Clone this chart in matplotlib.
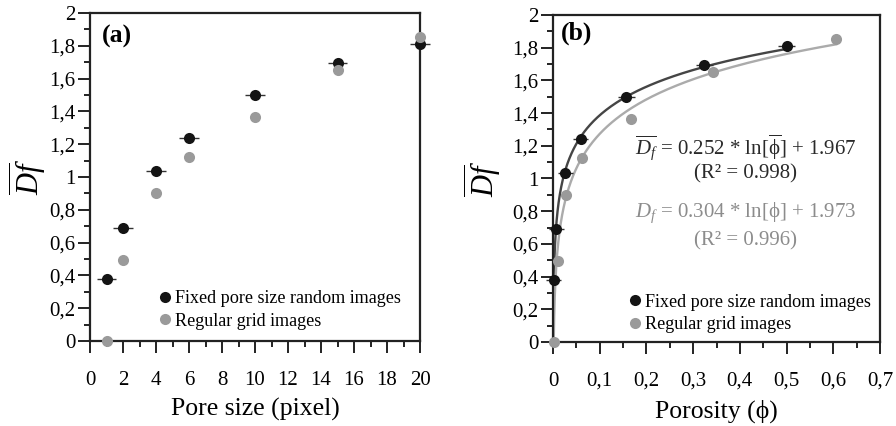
import numpy as np
import matplotlib
matplotlib.use("Agg")
import matplotlib.pyplot as plt
from matplotlib.ticker import MultipleLocator, FuncFormatter

plt.rcParams['font.family'] = ['Liberation Serif', 'DejaVu Serif']
plt.rcParams['mathtext.fontset'] = 'custom'
plt.rcParams['mathtext.rm'] = 'Liberation Serif'
plt.rcParams['mathtext.it'] = 'Liberation Serif:italic'
plt.rcParams['mathtext.bf'] = 'Liberation Serif:bold'

# Pore size series (panel a)
pore_size = [1, 2, 4, 6, 10, 15, 20]
df_random = [0.38, 0.69, 1.035, 1.24, 1.50, 1.695, 1.81]
df_grid = [0.0, 0.495, 0.90, 1.125, 1.365, 1.65, 1.855]
pore_err = [0.6, 0.6, 0.6, 0.6, 0.6, 0.6, 0.6]

# Porosity series (panel b)
phi_random = [0.002, 0.007, 0.026, 0.059, 0.157, 0.324, 0.500]
phi_grid = [0.002, 0.011, 0.028, 0.062, 0.167, 0.342, 0.606]
phi_err = [0.016, 0.016, 0.016, 0.016, 0.018, 0.018, 0.018]

# Logarithmic fits  Df = a * ln(phi) + b
fit_random = (0.252, 1.967)
fit_grid = (0.304, 1.973)

BLACK = '#141414'
GREY = '#9a9a9a'
CURVE_DARK = '#454545'
CURVE_LIGHT = '#ababab'

TICK_FS = 15
LABEL_FS = 18.5


def comma(v, pos):
    s = ('%g' % round(v, 3))
    return s.replace('.', ',')


def style_axis(ax, xmajor, xminor, ylabelpad):
    ax.set_ylim(0, 2)
    ax.yaxis.set_major_locator(MultipleLocator(0.2))
    ax.yaxis.set_minor_locator(MultipleLocator(0.1))
    ax.xaxis.set_major_locator(MultipleLocator(xmajor))
    ax.xaxis.set_minor_locator(MultipleLocator(xminor))
    ax.xaxis.set_major_formatter(FuncFormatter(comma))
    ax.yaxis.set_major_formatter(FuncFormatter(comma))
    ax.tick_params(which='major', direction='out', length=8.5, width=1.4,
                   labelsize=TICK_FS, color='#222222')
    ax.tick_params(which='minor', direction='out', length=4.5, width=1.4,
                   color='#222222')
    ax.tick_params(axis='x', which='major', pad=13)
    ax.tick_params(axis='y', which='major', pad=2)
    for sp in ax.spines.values():
        sp.set_linewidth(1.6)
        sp.set_color('#222222')
    ax.set_ylabel(r'$\overline{Df}$', fontsize=22, labelpad=ylabelpad)


fig = plt.figure(figsize=(8.96, 4.26), dpi=100)
ax1 = fig.add_axes([90 / 896, 1 - 341 / 426, 330 / 896, 328 / 426])
ax2 = fig.add_axes([553 / 896, 1 - 342 / 426, 327 / 896, 327 / 426])

legend_kw = dict(frameon=False, fontsize=13.1, handletextpad=0.15,
                 handlelength=0.8, labelspacing=0.3, borderpad=0,
                 borderaxespad=0, loc='lower left')

# ---- panel (a)
ax1.set_xlim(0, 20)
style_axis(ax1, 2, 1, 0)
ax1.errorbar(pore_size, df_random, xerr=pore_err, fmt='none',
             ecolor='#333333', elinewidth=1.0, zorder=3, clip_on=False)
ax1.plot(pore_size, df_random, 'o', color=BLACK, ms=8, mec='none',
         zorder=4, clip_on=False, label='Fixed pore size random images')
ax1.plot(pore_size, df_grid, 'o', color=GREY, ms=8, mec='none',
         zorder=5, clip_on=False, label='Regular grid images')
ax1.set_xlabel('Pore size (pixel)', fontsize=LABEL_FS, labelpad=6)
ax1.text(0.035, 0.965, '(a)', transform=ax1.transAxes, fontsize=18.5,
         fontweight='bold', va='top', ha='left')
ax1.legend(bbox_to_anchor=(0.205, 0.035), **legend_kw)

# ---- panel (b)
ax2.set_xlim(0, 0.7)
style_axis(ax2, 0.1, 0.05, 6)

for (a, b), xmax, col in ((fit_random, max(phi_random), CURVE_DARK),
                          (fit_grid, max(phi_grid), CURVE_LIGHT)):
    x0 = np.exp(-b / a)
    xs = np.geomspace(x0, xmax, 400)
    ax2.plot(xs, a * np.log(xs) + b, color=col, lw=1.7, zorder=2)

ax2.errorbar(phi_random, df_random, xerr=phi_err, fmt='none',
             ecolor='#333333', elinewidth=1.0, zorder=3, clip_on=False)
ax2.plot(phi_random, df_random, 'o', color=BLACK, ms=8, mec='none',
         zorder=4, clip_on=False, label='Fixed pore size random images')
ax2.plot(phi_grid, df_grid, 'o', color=GREY, ms=8, mec='none',
         zorder=5, clip_on=False, label='Regular grid images')
ax2.set_xlabel('Porosity (ϕ)', fontsize=LABEL_FS, labelpad=6)
ax2.text(0.025, 0.98, '(b)', transform=ax2.transAxes, fontsize=18.5,
         fontweight='bold', va='top', ha='left')

ax2.text(0.59, 0.595,
         r'$\overline{D_f}$ = %.3f * ln[$\overline{\mathrm{\phi}}$] + %.3f'
         % fit_random, transform=ax2.transAxes, fontsize=15,
         color='#2a2a2a', ha='center', va='center')
ax2.text(0.59, 0.515, '(R² = 0.998)', transform=ax2.transAxes,
         fontsize=15, color='#2a2a2a', ha='center', va='center')
ax2.text(0.59, 0.395,
         r'$D_f$ = %.3f * ln[ϕ] + %.3f' % fit_grid,
         transform=ax2.transAxes, fontsize=15, color='#8c8c8c',
         ha='center', va='center')
ax2.text(0.59, 0.31, '(R² = 0.996)', transform=ax2.transAxes,
         fontsize=15, color='#8c8c8c', ha='center', va='center')

ax2.legend(bbox_to_anchor=(0.228, 0.027), **legend_kw)

fig.savefig('out.png', dpi=100)
